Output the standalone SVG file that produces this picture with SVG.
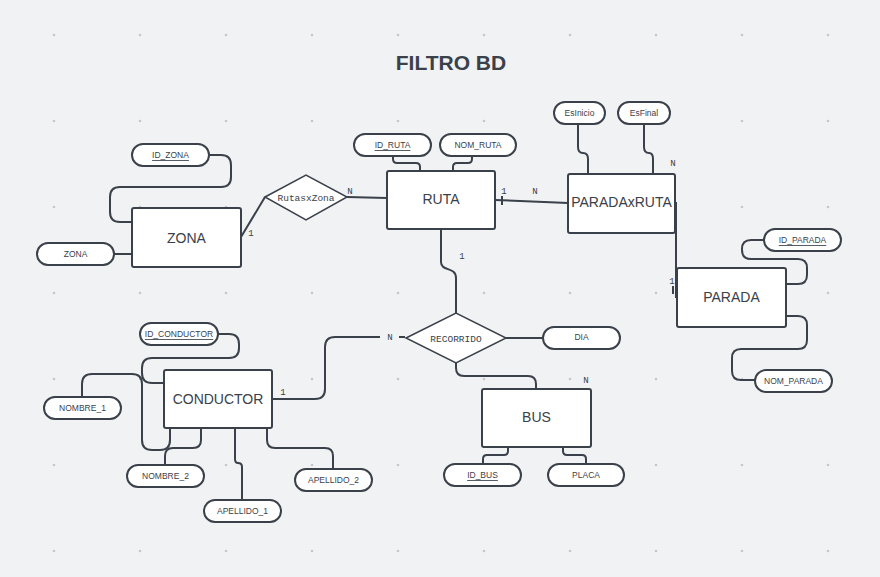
<svg xmlns="http://www.w3.org/2000/svg" width="880" height="577" viewBox="0 0 880 577">
<defs>
<style>
.bg{fill:#f1f2f4}
.dot{fill:#c4c8ce}
.ent{fill:#ffffff;stroke:#3a414a;stroke-width:2}
.attr{fill:#ffffff;stroke:#3a414a;stroke-width:2}
.rel{fill:#ffffff;stroke:#3a414a;stroke-width:1.5}
.et{font-family:"Liberation Sans",Arial,sans-serif;font-size:14px;fill:#3a414a;text-anchor:middle;dominant-baseline:central}
.at{font-family:"Liberation Sans",Arial,sans-serif;font-size:8.5px;fill:#3a414a;text-anchor:middle;dominant-baseline:central}
.key{text-decoration:underline}
.rt{font-family:"Liberation Mono","DejaVu Sans Mono",monospace;font-size:9.5px;fill:#3a414a;text-anchor:middle;dominant-baseline:central}
.card{font-family:"Liberation Mono","DejaVu Sans Mono",monospace;font-size:9px;fill:#3a414a;text-anchor:middle}
.ln{fill:none;stroke:#3a414a;stroke-width:2}
.title{font-family:"Liberation Sans",Arial,sans-serif;font-size:21px;font-weight:bold;fill:#3a414a;text-anchor:middle}
</style>
<pattern id="grid" x="11" y="-8" width="86" height="86" patternUnits="userSpaceOnUse">
<circle class="dot" cx="43" cy="43" r="1.3"/>
</pattern>
</defs>
<rect class="bg" x="0" y="0" width="880" height="577"/>
<rect fill="url(#grid)" x="0" y="0" width="880" height="577"/>
<text class="title" x="451" y="70">FILTRO BD</text>

<g id="connectors">
<path class="ln" d="M209,155 H221 Q231,155 231,165 V177 Q231,187 221,187 H120 Q110,187 110,197 V212 Q110,222 120,222 H132"/>
<path class="ln" d="M114,254 H132"/>
<path class="ln" d="M241,237 L265,197"/>
<path class="ln" d="M347,197 L387,198"/>
<path class="ln" d="M393,156 V159 Q393,163 397,163 H416 Q420,163 420,167 V171"/>
<path class="ln" d="M472,156 V159 Q472,163 468,163 H457 Q453,163 453,167 V171"/>
<path class="ln" d="M495,200 L568,203"/>
<path class="ln" d="M502,196 V205" stroke-width="1.5"/>
<path class="ln" d="M578,124 V147 Q578,153 583,153 Q588,153 588,159 V174"/>
<path class="ln" d="M644,124 V147 Q644,153 649,153 Q653,153 653,159 V174"/>
<path class="ln" d="M676,202 V298"/>
<path class="ln" d="M673,286 V294" stroke-width="1.5"/>
<path class="ln" d="M764,240 H751 Q742,240 742,249 V250 Q742,259 751,259 H798 Q807,259 807,268 V275 Q807,284 798,284 H786"/>
<path class="ln" d="M786,316 H798 Q807,316 807,325 V340 Q807,349 798,349 H741 Q732,349 732,358 V371 Q732,380 741,380 H755"/>
<path class="ln" d="M218,334 H229 Q239,334 239,344 V348 Q239,358 229,358 H152 Q142,358 142,368 V373 Q142,383 152,383 H164"/>
<path class="ln" d="M82,397 V384 Q82,374 92,374 H132 Q142,374 142,384 V440 Q142,450 152,450 H160 Q170,450 170,440 V428"/>
<path class="ln" d="M165,465 V456 Q165,448 173,448 H193 Q201,448 201,440 V428"/>
<path class="ln" d="M235,428 V459 Q235,463 238,463 Q242,463 242,467 V500"/>
<path class="ln" d="M267,428 V440 Q267,448 275,448 H325 Q333,448 333,456 V469"/>
<path class="ln" d="M272,399 H315 Q325,399 325,389 V347 Q325,337 335,337 H380"/>
<path class="ln" d="M399,337 H405"/>
<path class="ln" d="M441,229 V262 C441,272 456,266 456,278 V313"/>
<path class="ln" d="M506,338 H543"/>
<path class="ln" d="M456,363 V368 Q456,376 464,376 H528 Q536,376 536,384 V389"/>
<path class="ln" d="M508,447 V451 Q508,455 504,455 H487 Q483,455 483,459 V464"/>
<path class="ln" d="M563,447 V451 Q563,455 567,455 H582 Q586,455 586,459 V464"/>
<text class="card" x="251" y="236">1</text>
<text class="card" x="350" y="194">N</text>
<text class="card" x="504" y="194">1</text>
<text class="card" x="535" y="194">N</text>
<text class="card" x="673" y="166">N</text>
<text class="card" x="672" y="284">1</text>
<text class="card" x="283" y="395">1</text>
<text class="card" x="390" y="340">N</text>
<text class="card" x="462" y="259">1</text>
<text class="card" x="586" y="383">N</text>
</g>

<g id="ZONA"><rect class="ent" x="132" y="208" width="109" height="59" rx="2"/><text class="et" x="186.5" y="237.5">ZONA</text></g>
<g id="ID_ZONA"><rect class="attr" x="132" y="144" width="77" height="22" rx="11"/><text class="at key" x="170.5" y="155">ID_ZONA</text></g>
<g id="ZONA_attr"><rect class="attr" x="37" y="243" width="77" height="22" rx="11"/><text class="at" x="75.5" y="254">ZONA</text></g>
<g id="RutasxZona"><polygon class="rel" points="265,197 306,175 347,197 306,220"/><text class="rt" x="306" y="198">RutasxZona</text></g>
<g id="RUTA"><rect class="ent" x="387" y="171" width="108" height="58" rx="2"/><text class="et" x="441" y="199">RUTA</text></g>
<g id="ID_RUTA"><rect class="attr" x="354" y="134" width="77" height="22" rx="11"/><text class="at key" x="392.5" y="145">ID_RUTA</text></g>
<g id="NOM_RUTA"><rect class="attr" x="440" y="134" width="76" height="22" rx="11"/><text class="at" x="478" y="145">NOM_RUTA</text></g>
<g id="PARADAxRUTA"><rect class="ent" x="568" y="174" width="107" height="59" rx="2"/><text class="et" x="621.5" y="202">PARADAxRUTA</text></g>
<g id="EsInicio"><rect class="attr" x="554" y="102" width="51" height="22" rx="11"/><text class="at" x="579.5" y="113">EsInicio</text></g>
<g id="EsFinal"><rect class="attr" x="618" y="102" width="52" height="22" rx="11"/><text class="at" x="644" y="113">EsFinal</text></g>
<g id="PARADA"><rect class="ent" x="677" y="268" width="109" height="59" rx="2"/><text class="et" x="731.5" y="296.5">PARADA</text></g>
<g id="ID_PARADA"><rect class="attr" x="764" y="229" width="77" height="22" rx="11"/><text class="at key" x="802.5" y="240">ID_PARADA</text></g>
<g id="NOM_PARADA"><rect class="attr" x="755" y="370" width="77" height="22" rx="11"/><text class="at" x="793.5" y="381">NOM_PARADA</text></g>
<g id="CONDUCTOR"><rect class="ent" x="164" y="370" width="108" height="58" rx="2"/><text class="et" x="218" y="399">CONDUCTOR</text></g>
<g id="ID_CONDUCTOR"><rect class="attr" x="140" y="323" width="78" height="22" rx="11"/><text class="at key" x="179" y="334">ID_CONDUCTOR</text></g>
<g id="NOMBRE_1"><rect class="attr" x="44" y="397" width="77" height="22" rx="11"/><text class="at" x="82.5" y="408">NOMBRE_1</text></g>
<g id="NOMBRE_2"><rect class="attr" x="127" y="465" width="77" height="22" rx="11"/><text class="at" x="165.5" y="476">NOMBRE_2</text></g>
<g id="APELLIDO_1"><rect class="attr" x="204" y="500" width="77" height="22" rx="11"/><text class="at" x="242.5" y="511">APELLIDO_1</text></g>
<g id="APELLIDO_2"><rect class="attr" x="295" y="469" width="77" height="22" rx="11"/><text class="at" x="333.5" y="480">APELLIDO_2</text></g>
<g id="RECORRIDO"><polygon class="rel" points="406,338 456,313 506,338 456,363"/><text class="rt" x="456" y="339">RECORRIDO</text></g>
<g id="DIA"><rect class="attr" x="543" y="327" width="77" height="22" rx="11"/><text class="at" x="581.5" y="337">DIA</text></g>
<g id="BUS"><rect class="ent" x="482" y="389" width="109" height="58" rx="2"/><text class="et" x="536.5" y="417">BUS</text></g>
<g id="ID_BUS"><rect class="attr" x="444" y="464" width="77" height="22" rx="11"/><text class="at key" x="482.5" y="475">ID_BUS</text></g>
<g id="PLACA"><rect class="attr" x="548" y="464" width="76" height="22" rx="11"/><text class="at" x="586" y="475">PLACA</text></g>
</svg>
